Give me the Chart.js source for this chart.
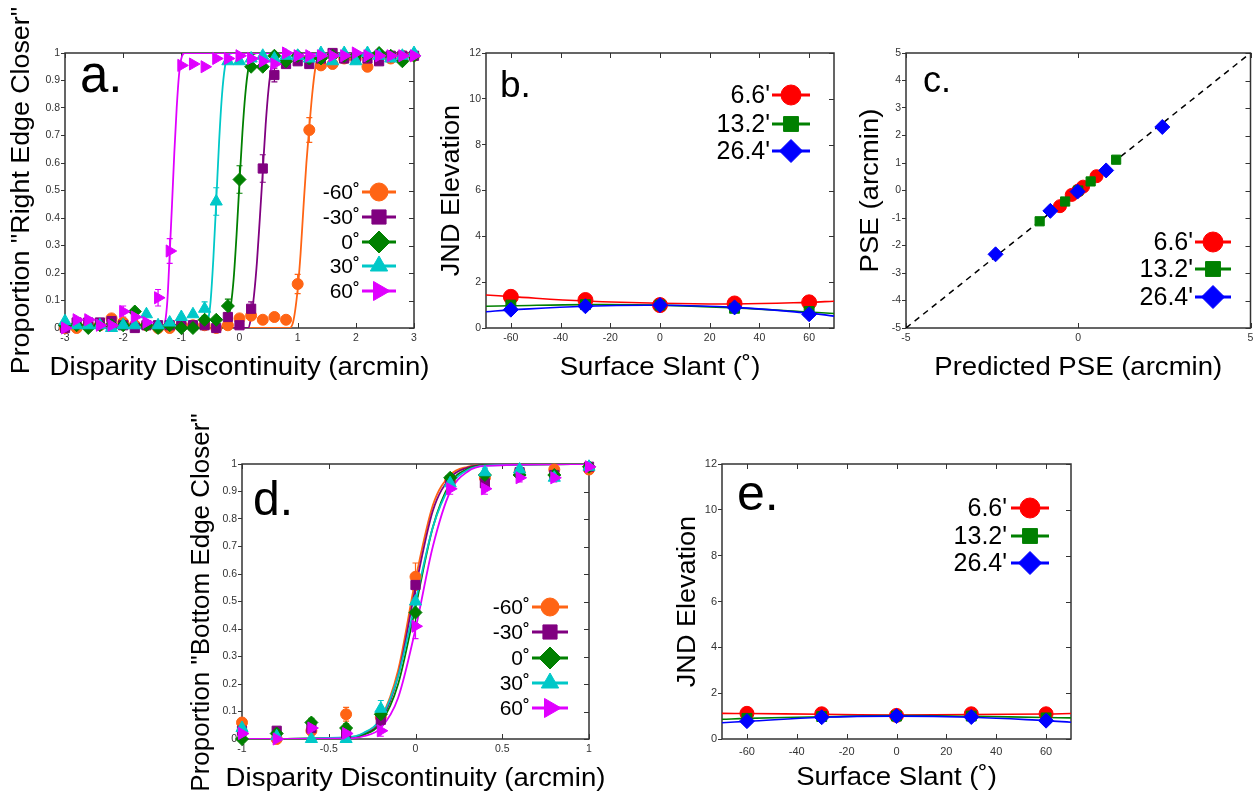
<!DOCTYPE html>
<html lang="en">
<head>
<meta charset="utf-8">
<title>Disparity discontinuity - psychometric functions, JND and PSE</title>
<script src="https://cdn.jsdelivr.net/npm/chart.js@4.4.1/dist/chart.umd.min.js"></script>
<style>
  html, body { margin: 0; padding: 0; background: #fff; }
  body { position: relative; width: 1259px; height: 805px; overflow: hidden; }
  canvas { position: absolute; }
</style>
</head>
<body>
<canvas id="chartA" width="430" height="385" style="left:0;top:0"></canvas>
<canvas id="chartB" width="420" height="385" style="left:430px;top:0"></canvas>
<canvas id="chartC" width="409" height="385" style="left:850px;top:0"></canvas>
<canvas id="chartD" width="450" height="395" style="left:180px;top:410px"></canvas>
<canvas id="chartE" width="440" height="395" style="left:640px;top:410px"></canvas>
<script>
// figure: 5 panels (a-e), each one scatter chart

const FONT = '"Liberation Sans", Arial, Helvetica, sans-serif';
const AXIS = '#333333';

const ORANGE = '#ff6414', PURPLE = '#800080', GREEN = '#008000', CYAN = '#00c8c8', MAGENTA = '#e000ff';
const RED = '#ff0000', BLUE = '#0000ff';

// ----------------- Data -----------------
const slantLabels = ['-60˚', '-30˚', '0˚', '30˚', '60˚'];
const sizeLabels = ["6.6'", "13.2'", "26.4'"];

// tick values
const dispTicksA = [-3, -2, -1, 0, 1, 2, 3];
const dispTicksD = [-1, -0.5, 0, 0.5, 1];
const propTicks = [0, 0.1, 0.2, 0.3, 0.4, 0.5, 0.6, 0.7, 0.8, 0.9, 1];
const slantTicks = [-60, -40, -20, 0, 20, 40, 60];
const jndTicks = [0, 2, 4, 6, 8, 10, 12];
const pseTicksX = [-5, 0, 5];
const pseTicksY = [-5, -4, -3, -2, -1, 0, 1, 2, 3, 4, 5];

// panel a - proportion "right edge closer"
const dispA = [-3, -2.8, -2.6, -2.4, -2.2, -2, -1.8, -1.6, -1.4, -1.2, -1, -0.8, -0.6, -0.4, -0.2, 0,
  0.2, 0.4, 0.6, 0.8, 1, 1.2, 1.4, 1.6, 1.8, 2, 2.2, 2.4, 2.6, 2.8, 3];
const propA_m60 = [0, 0, 0.01, 0.01, 0.035, 0.02, 0.01, 0.01, 0, 0, 0.01, 0.01, 0.01, 0, 0.01, 0.035,
  0.045, 0.03, 0.04, 0.03, 0.16, 0.72, 0.955, 0.96, 0.98, 0.98, 0.95, 0.99, 0.98, 0.99, 0.99];
const propA_m30 = [0, 0.02, 0.02, 0.02, 0.025, 0.01, 0, 0.01, 0.01, 0.01, 0.01, 0.01, 0.01, 0, 0.04, 0.01,
  0.07, 0.58, 0.92, 0.96, 0.97, 0.96, 0.98, 1, 0.98, 0.98, 0.98, 0.97, 0.99, 0.99, 0.99];
const propA_0 = [0.01, 0.01, 0, 0.01, 0.01, 0.01, 0.06, 0.01, 0, 0.01, 0, 0, 0.03, 0.03, 0.08, 0.54,
  0.95, 0.95, 0.99, 0.97, 0.99, 0.98, 0.98, 0.99, 0.99, 0.99, 0.99, 1, 0.99, 0.97, 0.99];
const propA_30 = [0.025, 0.01, 0.01, 0.01, 0, 0.01, 0.01, 0.05, 0.01, 0.02, 0.04, 0.05, 0.07, 0.46, 0.97, 0.97,
  0.98, 0.99, 0.98, 0.99, 0.99, 0.98, 1, 0.97, 1, 0.97, 1, 0.99, 0.98, 0.99, 1];
const propA_60 = [0, 0.03, 0.03, 0.01, 0.01, 0.06, 0.04, 0.02, 0.11, 0.28, 0.955, 0.96, 0.95, 0.98, 0.98, 0.99,
  0.98, 0.97, 0.96, 1, 0.99, 0.99, 0.99, 0.99, 0.99, 1, 0.99, 0.99, 0.99, 0.99, 0.99];
// error bar half lengths
const errA_m60 = [0, 0, 0, 0, 0.01, 0, 0, 0, 0, 0, 0, 0, 0, 0, 0, 0, 0.01, 0, 0, 0, 0.035, 0.045, 0.01, 0, 0, 0, 0.012, 0, 0, 0, 0];
const errA_m30 = [0, 0, 0, 0, 0, 0, 0, 0, 0, 0, 0, 0, 0, 0, 0.01, 0, 0.025, 0.05, 0.025, 0, 0, 0, 0, 0, 0, 0, 0, 0, 0, 0, 0];
const errA_0 = [0, 0, 0, 0, 0, 0, 0, 0, 0, 0, 0, 0, 0, 0, 0.025, 0.05, 0.01, 0, 0, 0, 0, 0, 0, 0, 0, 0, 0, 0, 0, 0, 0];
const errA_30 = [0, 0, 0, 0, 0, 0, 0, 0, 0, 0, 0, 0, 0.025, 0.05, 0, 0, 0, 0, 0, 0, 0, 0, 0, 0, 0, 0, 0, 0, 0, 0, 0];
const errA_60 = [0, 0, 0, 0, 0, 0.02, 0, 0, 0.03, 0.045, 0, 0, 0, 0, 0, 0, 0, 0, 0, 0, 0, 0, 0, 0, 0, 0, 0, 0, 0, 0, 0];
// fitted curves
const fitA_m60x = [-3, 0.85, 0.92, 1, 1.05, 1.1, 1.15, 1.2, 1.25, 1.3, 1.36, 1.45, 3];
const fitA_m60y = [0, 0, 0.02, 0.14, 0.27, 0.44, 0.6, 0.73, 0.85, 0.94, 0.99, 1, 1];
const fitA_m30x = [-3, 0.15, 0.2, 0.25, 0.3, 0.35, 0.4, 0.45, 0.5, 0.55, 0.62, 0.7, 3];
const fitA_m30y = [0, 0, 0.04, 0.12, 0.24, 0.4, 0.57, 0.74, 0.87, 0.95, 0.99, 1, 1];
const fitA_0x = [-3, -0.25, -0.2, -0.15, -0.1, -0.05, 0, 0.05, 0.1, 0.15, 0.22, 0.3, 3];
const fitA_0y = [0, 0, 0.03, 0.08, 0.18, 0.34, 0.53, 0.71, 0.85, 0.94, 0.99, 1, 1];
const fitA_30x = [-3, -0.62, -0.55, -0.5, -0.45, -0.4, -0.35, -0.3, -0.25, -0.2, -0.12, 3];
const fitA_30y = [0, 0, 0.02, 0.09, 0.25, 0.46, 0.68, 0.85, 0.95, 0.99, 1, 1];
const fitA_60x = [-3, -1.32, -1.28, -1.24, -1.2, -1.16, -1.12, -1.08, -1.04, -1, -0.94, 3];
const fitA_60y = [0, 0, 0.02, 0.1, 0.27, 0.45, 0.64, 0.8, 0.92, 0.98, 1, 1];

// panels b / e - JND elevation vs surface slant
const slantX = [-60, -30, 0, 30, 60];
const jndB_66 = [1.36, 1.22, 1.0, 1.07, 1.12];
const jndB_132 = [1.0, 1.02, 1.0, 0.86, 0.72];
const jndB_264 = [0.8, 0.95, 1.0, 0.9, 0.6];
const fitSlantX = [-70, -60, -30, 0, 30, 60, 70];
const fitB_66 = [1.44, 1.37, 1.18, 1.08, 1.05, 1.12, 1.17];
const fitB_132 = [0.95, 0.97, 1.02, 1.0, 0.88, 0.7, 0.63];
const fitB_264 = [0.71, 0.79, 0.95, 0.99, 0.9, 0.65, 0.52];

const jndE_66 = [1.12, 1.1, 1.03, 1.1, 1.1];
const jndE_132 = [0.9, 0.98, 1.0, 1.0, 0.92];
const jndE_264 = [0.78, 0.95, 1.0, 0.96, 0.8];
const fitE_66 = [1.12, 1.11, 1.08, 1.05, 1.07, 1.09, 1.11];
const fitE_132 = [0.86, 0.9, 0.97, 1.02, 0.99, 0.94, 0.92];
const fitE_264 = [0.71, 0.77, 0.95, 1.0, 0.95, 0.8, 0.73];

// panel c - PSE vs predicted PSE
const predC_66 = [-0.53, -0.19, 0.0, 0.14, 0.53];
const pseC_66 = [-0.57, -0.16, 0.0, 0.14, 0.52];
const predC_132 = [-1.12, -0.38, 0.0, 0.36, 1.1];
const pseC_132 = [-1.12, -0.4, 0.0, 0.33, 1.12];
const predC_264 = [-2.4, -0.81, -0.02, 0.81, 2.44];
const pseC_264 = [-2.32, -0.74, -0.04, 0.73, 2.31];
const unity = [-5, 5];

// panel d - proportion "bottom edge closer"
const dispD = [-1, -0.8, -0.6, -0.4, -0.2, 0, 0.2, 0.4, 0.6, 0.8, 1];
const propD_m60 = [0.06, 0.0, 0.03, 0.09, 0.08, 0.59, 0.94, 0.95, 0.97, 0.98, 0.98];
const propD_m30 = [0.03, 0.03, 0.04, 0.02, 0.07, 0.56, 0.94, 0.93, 0.97, 0.96, 0.99];
const propD_0 = [0.0, 0.02, 0.06, 0.04, 0.09, 0.46, 0.95, 0.96, 0.96, 0.96, 0.99];
const propD_30 = [0.04, 0.01, 0.0, 0.0, 0.11, 0.5, 0.93, 0.97, 0.98, 0.95, 0.99];
const propD_60 = [0.02, 0.0, 0.04, 0.02, 0.03, 0.41, 0.91, 0.91, 0.95, 0.95, 0.99];
const errD_m60 = [0.015, 0, 0, 0.025, 0.02, 0.05, 0.015, 0.015, 0.01, 0.01, 0.01];
const errD_m30 = [0, 0.01, 0, 0, 0.02, 0.04, 0.015, 0.02, 0.01, 0.01, 0];
const errD_0 = [0, 0, 0.015, 0.015, 0.02, 0.04, 0.01, 0.015, 0.01, 0.01, 0];
const errD_30 = [0.015, 0, 0, 0, 0.03, 0.05, 0.015, 0.015, 0.01, 0.01, 0];
const errD_60 = [0.01, 0, 0.01, 0.01, 0.02, 0.045, 0.02, 0.02, 0.015, 0.015, 0];
const fitDx = [-1, -0.4, -0.3, -0.2, -0.1, 0, 0.1, 0.2, 0.3, 0.4, 1];
const fitD_m60 = [0, 0.005, 0.02, 0.075, 0.25, 0.58, 0.85, 0.96, 0.99, 0.997, 1];
const fitD_m30 = [0, 0.004, 0.017, 0.066, 0.23, 0.55, 0.83, 0.95, 0.987, 0.997, 1];
const fitD_0 = [0, 0.004, 0.015, 0.058, 0.2, 0.48, 0.77, 0.93, 0.982, 0.996, 1];
const fitD_30 = [0, 0.006, 0.022, 0.075, 0.23, 0.5, 0.77, 0.92, 0.978, 0.994, 1];
const fitD_60 = [0, 0.002, 0.01, 0.04, 0.15, 0.4, 0.7, 0.9, 0.972, 0.993, 1];

// ----------------- Helpers -----------------
const pts = (xs, ys) => xs.map((x, i) => ({ x, y: ys[i] }));

function markers(xs, ys, color, style, radius, rotation, errors) {
  return {
    data: pts(xs, ys), showLine: false, clip: false,
    pointStyle: style, pointRadius: radius, pointHoverRadius: radius, pointRotation: rotation || 0,
    pointBackgroundColor: color, pointBorderColor: color, pointBorderWidth: 1,
    errors: errors || null, errColor: color
  };
}

function curve(xs, ys, color, width, mode) {
  const ds = {
    data: pts(xs, ys), showLine: true, pointRadius: 0, pointHoverRadius: 0,
    borderColor: color, borderWidth: width, fill: false
  };
  if (mode === 'monotone') ds.cubicInterpolationMode = 'monotone';
  else ds.tension = 0.4;
  return ds;
}

// frame, inner ticks, error bars, titles, legend and panel letter
function decor(spec) {
  return {
    id: 'decor',
    beforeDatasetsDraw(chart) {
      const { ctx, chartArea: a, scales: { x, y } } = chart;
      ctx.save();
      ctx.strokeStyle = AXIS;
      ctx.lineWidth = 1.5;
      ctx.strokeRect(a.left, a.top, a.right - a.left, a.bottom - a.top);
      ctx.lineWidth = 1;
      ctx.beginPath();
      x.ticks.forEach(t => {
        const px = Math.round(x.getPixelForValue(t.value)) + 0.5;
        ctx.moveTo(px, a.top); ctx.lineTo(px, a.top + 5);
        ctx.moveTo(px, a.bottom); ctx.lineTo(px, a.bottom - 5);
      });
      y.ticks.forEach(t => {
        const py = Math.round(y.getPixelForValue(t.value)) + 0.5;
        ctx.moveTo(a.right, py); ctx.lineTo(a.right - 5, py);
      });
      ctx.stroke();
      // error bars
      chart.data.datasets.forEach(ds => {
        if (!ds.errors) return;
        ctx.strokeStyle = ds.errColor;
        ctx.lineWidth = 1.2;
        ds.data.forEach((p, i) => {
          const e = ds.errors[i];
          if (!e) return;
          const px = x.getPixelForValue(p.x);
          const y1 = y.getPixelForValue(p.y - e), y2 = y.getPixelForValue(p.y + e);
          ctx.beginPath();
          ctx.moveTo(px, y1); ctx.lineTo(px, y2);
          ctx.moveTo(px - 3, y1); ctx.lineTo(px + 3, y1);
          ctx.moveTo(px - 3, y2); ctx.lineTo(px + 3, y2);
          ctx.stroke();
        });
      });
      ctx.restore();
    },
    afterDatasetsDraw(chart) {
      const { ctx, chartArea: a } = chart;
      ctx.save();
      ctx.fillStyle = '#000';
      // axis titles (reference lettering is a little wide)
      ctx.font = `${spec.titleSize}px ${FONT}`;
      ctx.textAlign = 'center';
      ctx.textBaseline = 'middle';
      ctx.save();
      ctx.translate((a.left + a.right) / 2, spec.xTitleY);
      ctx.scale(spec.xStretch || 1.06, 1);
      ctx.fillText(spec.xTitle, 0, 0);
      ctx.restore();
      ctx.save();
      ctx.translate(spec.yTitleX, (a.top + a.bottom) / 2 + (spec.yTitleShift || 0));
      ctx.rotate(-Math.PI / 2);
      ctx.scale(spec.yStretch || 1, 1);
      ctx.fillText(spec.yTitle, 0, 0);
      ctx.restore();
      // panel letter
      ctx.textAlign = 'left';
      ctx.textBaseline = 'alphabetic';
      ctx.font = `${spec.tag.size}px ${FONT}`;
      ctx.fillText(spec.tag.text, spec.tag.x, spec.tag.y);
      // legend: label, line, marker
      const L = spec.legend;
      ctx.font = `${L.size}px ${FONT}`;
      ctx.textAlign = 'right';
      ctx.textBaseline = 'middle';
      L.labels.forEach((txt, i) => {
        const yy = L.rows[i], m = L.marks[i];
        ctx.fillStyle = '#000';
        ctx.fillText(txt, L.textRight, yy + 1);
        ctx.strokeStyle = m.color;
        ctx.lineWidth = 3;
        ctx.beginPath();
        ctx.moveTo(L.x1, yy); ctx.lineTo(L.x2, yy);
        ctx.stroke();
        ctx.fillStyle = m.color;
        ctx.lineWidth = 1;
        Chart.helpers.drawPoint(ctx, { pointStyle: m.style, rotation: m.rot || 0, radius: m.r, borderWidth: 1 },
          (L.x1 + L.x2) / 2, yy);
      });
      ctx.restore();
    }
  };
}

function buildPanel(id, spec) {
  const canvas = document.getElementById(id);
  const W = canvas.width, H = canvas.height, A = spec.area;
  const tickFont = { family: FONT, size: spec.tickSize || 10.5 };
  return new Chart(canvas.getContext('2d'), {
    type: 'scatter',
    data: { datasets: spec.datasets.slice().reverse() },
    options: {
      responsive: false,
      animation: false,
      events: [],
      layout: { padding: { left: 0, top: A.top, right: W - A.right, bottom: 0 } },
      plugins: { legend: { display: false }, tooltip: { enabled: false } },
      scales: {
        x: {
          type: 'linear', min: spec.xMin, max: spec.xMax,
          afterBuildTicks: s => { s.ticks = spec.xTicks.map(v => ({ value: v })); },
          afterFit: s => { s.height = H - A.bottom; },
          border: { display: false },
          grid: { drawOnChartArea: false, drawTicks: false },
          ticks: { font: tickFont, color: AXIS, padding: spec.xTickPad || 4, maxRotation: 0, autoSkip: false, callback: v => String(v) }
        },
        y: {
          type: 'linear', min: spec.yMin, max: spec.yMax,
          afterBuildTicks: s => { s.ticks = spec.yTicks.map(v => ({ value: v })); },
          afterFit: s => { s.width = A.left; },
          border: { display: false },
          grid: { drawOnChartArea: false, drawTicks: true, tickLength: 4, color: AXIS, lineWidth: 1 },
          ticks: { font: tickFont, color: AXIS, padding: 1, autoSkip: false, callback: v => String(v) }
        }
      }
    },
    plugins: [decor(spec)]
  });
}

const slantMarks = [
  { color: ORANGE, style: 'circle', r: 9 },
  { color: PURPLE, style: 'rect', r: 10 },
  { color: GREEN, style: 'rectRot', r: 11 },
  { color: CYAN, style: 'triangle', r: 10 },
  { color: MAGENTA, style: 'triangle', r: 11, rot: 90 }
];
const sizeMarks = [
  { color: RED, style: 'circle', r: 10 },
  { color: GREEN, style: 'rect', r: 10.5 },
  { color: BLUE, style: 'rectRot', r: 11.5 }
];

// ----------------- Panels -----------------
window.addEventListener('DOMContentLoaded', () => {
  buildPanel('chartA', {
    area: { left: 65, top: 53, right: 414, bottom: 328 },
    xMin: -3, xMax: 3, xTicks: dispTicksA, yMin: 0, yMax: 1, yTicks: propTicks,
    titleSize: 26, xTitle: 'Disparity Discontinuity (arcmin)', xTitleY: 368,
    yTitle: 'Proportion "Right Edge Closer"', yTitleX: 22, yStretch: 1.03,
    tag: { text: 'a.', x: 80, y: 92, size: 51 },
    legend: { labels: slantLabels, marks: slantMarks, textRight: 360, x1: 362, x2: 396, rows: [192, 217, 242, 266, 291], size: 21 },
    datasets: [
      curve(fitA_m60x, fitA_m60y, ORANGE, 1.8, 'monotone'),
      curve(fitA_m30x, fitA_m30y, PURPLE, 1.8, 'monotone'),
      curve(fitA_0x, fitA_0y, GREEN, 1.8, 'monotone'),
      curve(fitA_30x, fitA_30y, CYAN, 1.8, 'monotone'),
      curve(fitA_60x, fitA_60y, MAGENTA, 1.8, 'monotone'),
      markers(dispA, propA_m60, ORANGE, 'circle', 5.5, 0, errA_m60),
      markers(dispA, propA_m30, PURPLE, 'rect', 6.5, 0, errA_m30),
      markers(dispA, propA_0, GREEN, 'rectRot', 6.5, 0, errA_0),
      markers(dispA, propA_30, CYAN, 'triangle', 7, 0, errA_30),
      markers(dispA, propA_60, MAGENTA, 'triangle', 7, 90, errA_60)
    ]
  });

  buildPanel('chartB', {
    area: { left: 56, top: 53, right: 404, bottom: 328 },
    xMin: -70, xMax: 70, xTicks: slantTicks, yMin: 0, yMax: 12, yTicks: jndTicks,
    titleSize: 26, xTitle: 'Surface Slant (˚)', xTitleY: 368,
    yTitle: 'JND Elevation', yTitleX: 22, yStretch: 1.04,
    tag: { text: 'b.', x: 70, y: 97, size: 37 },
    legend: { labels: sizeLabels, marks: sizeMarks, textRight: 340, x1: 342, x2: 380, rows: [95, 124, 151], size: 25 },
    datasets: [
      curve(fitSlantX, fitB_66, RED, 1.6),
      curve(fitSlantX, fitB_132, GREEN, 1.6),
      curve(fitSlantX, fitB_264, BLUE, 1.6),
      markers(slantX, jndB_66, RED, 'circle', 7.5),
      markers(slantX, jndB_132, GREEN, 'rect', 7),
      markers(slantX, jndB_264, BLUE, 'rectRot', 7.5)
    ]
  });

  const unityLine = curve(unity, unity, '#000', 1.5);
  unityLine.tension = 0;
  unityLine.borderDash = [6, 5];
  buildPanel('chartC', {
    area: { left: 56, top: 53, right: 404, bottom: 328 },
    xMin: -5, xMax: 5, xTicks: pseTicksX, yMin: -5, yMax: 5, yTicks: pseTicksY,
    titleSize: 26, xTitle: 'Predicted PSE (arcmin)', xTitleY: 368,
    yTitle: 'PSE (arcmin)', yTitleX: 21, yStretch: 1.06,
    tag: { text: 'c.', x: 73, y: 92, size: 36 },
    legend: { labels: sizeLabels, marks: sizeMarks, textRight: 343, x1: 345, x2: 381, rows: [242, 269, 297], size: 25 },
    datasets: [
      unityLine,
      markers(predC_66, pseC_66, RED, 'circle', 6.5),
      markers(predC_132, pseC_132, GREEN, 'rect', 6.5),
      markers(predC_264, pseC_264, BLUE, 'rectRot', 7.5)
    ]
  });

  buildPanel('chartD', {
    area: { left: 62, top: 54, right: 409, bottom: 329 },
    xMin: -1, xMax: 1, xTicks: dispTicksD, yMin: 0, yMax: 1, yTicks: propTicks,
    titleSize: 26, xTitle: 'Disparity Discontinuity (arcmin)', xTitleY: 369,
    yTitle: 'Proportion "Bottom Edge Closer"', yTitleX: 22, yTitleShift: 1, yStretch: 1.0,
    tag: { text: 'd.', x: 73, y: 105, size: 48 },
    legend: { labels: slantLabels, marks: slantMarks, textRight: 350, x1: 352, x2: 388, rows: [197, 222, 248, 273, 298], size: 21 },
    datasets: [
      curve(fitDx, fitD_m60, ORANGE, 1.8, 'monotone'),
      curve(fitDx, fitD_m30, PURPLE, 1.8, 'monotone'),
      curve(fitDx, fitD_0, GREEN, 1.8, 'monotone'),
      curve(fitDx, fitD_30, CYAN, 1.8, 'monotone'),
      curve(fitDx, fitD_60, MAGENTA, 1.8, 'monotone'),
      markers(dispD, propD_m60, ORANGE, 'circle', 5.5, 0, errD_m60),
      markers(dispD, propD_m30, PURPLE, 'rect', 6.5, 0, errD_m30),
      markers(dispD, propD_0, GREEN, 'rectRot', 6.5, 0, errD_0),
      markers(dispD, propD_30, CYAN, 'triangle', 7, 0, errD_30),
      markers(dispD, propD_60, MAGENTA, 'triangle', 7, 90, errD_60)
    ]
  });

  buildPanel('chartE', {
    area: { left: 82, top: 54, right: 431, bottom: 329 },
    xMin: -70, xMax: 70, xTicks: slantTicks, yMin: 0, yMax: 12, yTicks: jndTicks, tickSize: 11, xTickPad: 6,
    titleSize: 26, xTitle: 'Surface Slant (˚)', xTitleY: 368,
    yTitle: 'JND Elevation', yTitleX: 48, yStretch: 1.04,
    tag: { text: 'e.', x: 97, y: 100, size: 50 },
    legend: { labels: sizeLabels, marks: sizeMarks, textRight: 367, x1: 371, x2: 409, rows: [98, 126, 153], size: 25 },
    datasets: [
      curve(fitSlantX, fitE_66, RED, 1.6),
      curve(fitSlantX, fitE_132, GREEN, 1.6),
      curve(fitSlantX, fitE_264, BLUE, 1.6),
      markers(slantX, jndE_66, RED, 'circle', 7),
      markers(slantX, jndE_132, GREEN, 'rect', 7),
      markers(slantX, jndE_264, BLUE, 'rectRot', 7.5)
    ]
  });
});
</script>
</body>
</html>
